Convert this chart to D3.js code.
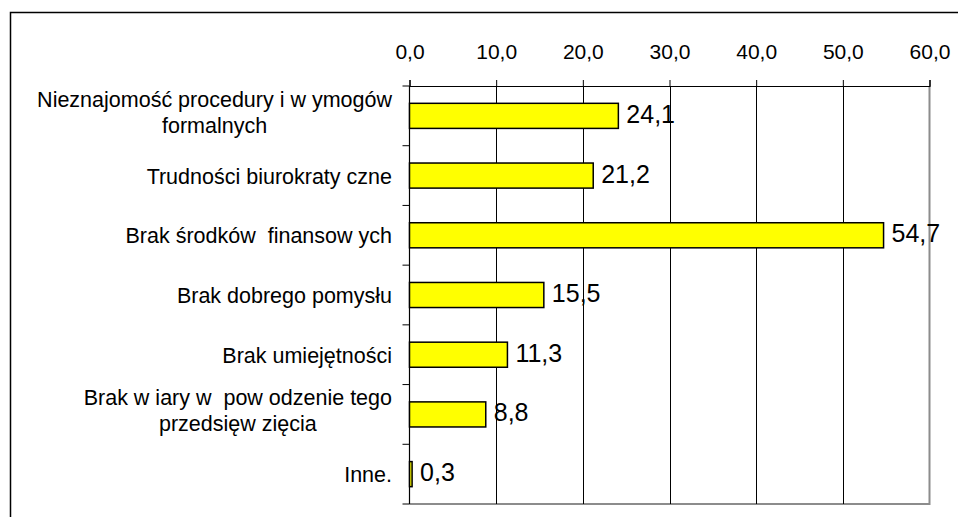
<!DOCTYPE html>
<html>
<head>
<meta charset="utf-8">
<script src="https://cdn.jsdelivr.net/npm/d3@7"></script>
<style>
  html, body { margin: 0; padding: 0; background: #fff; }
  svg { display: block; }
  text { font-family: "Liberation Sans", Arial, sans-serif; fill: #000; white-space: pre; }
</style>
</head>
<body>
<svg id="chart" width="958" height="517"></svg>
<script>
// Reasons for not starting a business (%)
const categories = [
  ["Nieznajomość procedury i w ymogów", "formalnych"],
  ["Trudności biurokraty czne"],
  ["Brak środków  finansow ych"],
  ["Brak dobrego pomysłu"],
  ["Brak umiejętności"],
  ["Brak w iary w  pow odzenie tego", "przedsięw zięcia"],
  ["Inne."]
];
const values = [24.1, 21.2, 54.7, 15.5, 11.3, 8.8, 0.3];
const xTicks = [0, 10, 20, 30, 40, 50, 60];

const svg = d3.select("#chart");
const plot = { left: 409.5, right: 929.5, top: 86, bottom: 504 };
const fmt = v => v.toFixed(1).replace(".", ",");

// outer frame
svg.append("rect")
  .attr("x", 10.5).attr("y", 12.5)
  .attr("width", 960).attr("height", 520)
  .attr("fill", "#fff").attr("stroke", "#000").attr("stroke-width", 1.5);

const ids = categories.map((_, i) => i);
const x = d3.scaleLinear().domain([0, 60]).range([plot.left, plot.right]);
const y = d3.scaleBand().domain(ids).range([plot.top, plot.bottom]).paddingInner(0.58).paddingOuter(0.29);
const yb = d3.scaleBand().domain(ids).range([plot.top, plot.bottom]);

// plot area border (right and bottom in grey)
svg.append("path")
  .attr("d", `M${plot.left},${plot.bottom}H${plot.right}V${plot.top}`)
  .attr("fill", "none").attr("stroke", "#8c8c8c").attr("stroke-width", 2);

// vertical gridlines
svg.append("g").selectAll("line")
  .data(xTicks.filter(t => t > 0 && t < 60))
  .join("line")
  .attr("x1", d => Math.round(x(d)) + 0.5).attr("x2", d => Math.round(x(d)) + 0.5)
  .attr("y1", plot.top).attr("y2", plot.bottom)
  .attr("stroke", "#000").attr("stroke-width", 1);

// top value axis
const xAxis = svg.append("g")
  .attr("transform", `translate(0,${plot.top})`)
  .call(d3.axisTop(x).tickValues(xTicks).tickFormat(fmt).tickSize(6).tickPadding(21));
xAxis.select(".domain").attr("stroke", "#000").attr("stroke-width", 1.2);
xAxis.selectAll(".tick line").attr("stroke", "#000");
xAxis.selectAll(".tick text").attr("font-size", 21).attr("font-family", "Liberation Sans, Arial, sans-serif").attr("fill", "#000");

// left category axis: tick marks at band boundaries
const bounds = ids.map(i => yb(i)).concat([plot.bottom]);
svg.append("line")
  .attr("x1", plot.left).attr("x2", plot.left)
  .attr("y1", plot.top).attr("y2", plot.bottom)
  .attr("stroke", "#000").attr("stroke-width", 1.2);
svg.append("g").selectAll("line")
  .data(bounds).join("line")
  .attr("x1", plot.left - 7).attr("x2", plot.left)
  .attr("y1", d => d).attr("y2", d => d)
  .attr("stroke", "#000").attr("stroke-width", 1);

// bars
svg.append("g").selectAll("rect")
  .data(values).join("rect")
  .attr("x", x(0))
  .attr("y", (d, i) => y(i))
  .attr("width", d => x(d) - x(0))
  .attr("height", y.bandwidth())
  .attr("fill", "#ffff00")
  .attr("stroke", "#000").attr("stroke-width", 1.5);

// value labels
svg.append("g").selectAll("text")
  .data(values).join("text")
  .attr("x", d => x(d) + 8)
  .attr("y", (d, i) => yb(i) + yb.bandwidth() / 2 + 7)
  .attr("font-size", 25)
  .text(d => fmt(d));

// category labels
const labelX = 392, lineGap = 26;
const lbl = svg.append("g");
categories.forEach((lines, i) => {
  const cy = yb(i) + yb.bandwidth() / 2;
  if (lines.length === 1) {
    lbl.append("text")
      .attr("x", labelX).attr("y", cy + 8)
      .attr("text-anchor", "end").attr("font-size", 21.5)
      .text(lines[0]);
  } else {
    const t = lbl.append("text").attr("font-size", 21.5).attr("text-anchor", "middle");
    const first = t.append("tspan").text(lines[0]);
    const w = first.node().getComputedTextLength();
    const cx = labelX - w / 2;
    first.attr("x", cx).attr("y", cy - 9);
    t.append("tspan").attr("x", cx).attr("y", cy - 9 + lineGap).text(lines[1]);
  }
});
</script>
</body>
</html>
